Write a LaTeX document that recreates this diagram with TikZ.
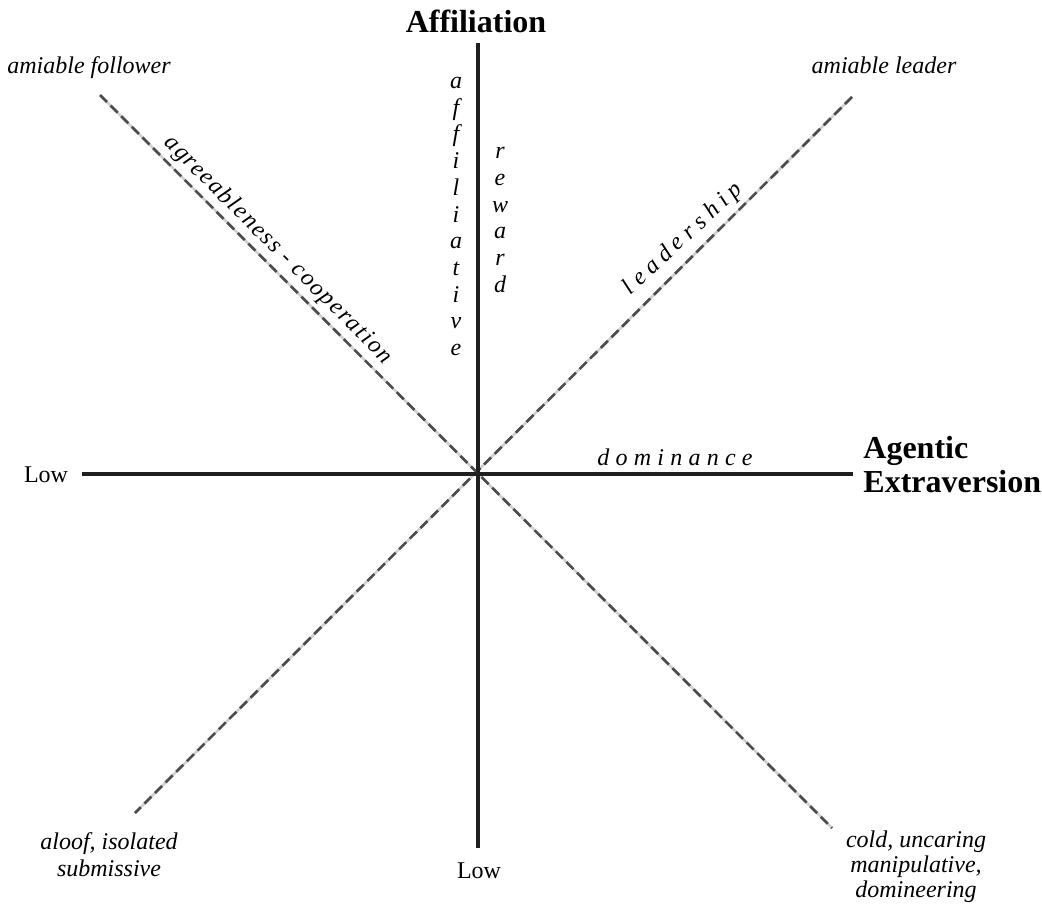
\documentclass[tikz,border=0pt]{standalone}
\usepackage{fontspec}
\setmainfont{Liberation Serif}
\begin{document}
\begin{tikzpicture}[x=0.5pt,y=0.5pt,
    axis/.style={line width=1.8pt,black!88},
    diagbase/.style={line width=1.3pt,black!18},
    diagdash/.style={line width=1.3pt,black!70,dash pattern=on 5pt off 2.5pt},
    lab/.style={font=\fontsize{12}{12.5}\selectfont\itshape,align=center,inner sep=0pt},
    stack/.style={font=\fontsize{12}{13.35}\selectfont\itshape,align=center,inner sep=0pt},
    big/.style={font=\fontsize{16}{17.5}\selectfont\bfseries,align=left,inner sep=0pt},
    low/.style={font=\fontsize{12}{14}\selectfont,inner sep=0pt}]
  \useasboundingbox (0,0) rectangle (1042,-906);
  % ends of the lines
  \coordinate (o) at (478,-474);
  \coordinate (top) at (478,-43);
  \coordinate (bot) at (478,-848);
  \coordinate (left) at (82,-474);
  \coordinate (right) at (853,-474);
  \coordinate (ul) at (100,-95);
  \coordinate (lr) at (832,-828);
  \coordinate (ur) at (852,-97);
  \coordinate (ll) at (135,-813);
  % dashed diagonals
  \draw[diagbase] (ul) -- (lr);
  \draw[diagdash] (ul) -- (lr);
  \draw[diagbase] (ur) -- (ll);
  \draw[diagdash] (ur) -- (ll);
  % axes
  \draw[axis] (top) -- (bot);
  \draw[axis] (left) -- (right);
  % axis titles
  \node[big,anchor=base] (affil) at (476,-32) {Affiliation};
  \node[big,anchor=north west] (agent) at (863,-436) {Agentic\\[-0.5pt]Extraversion};
  \node[low,anchor=base] (lowx) at (46,-482) {Low};
  \node[low,anchor=base] (lowy) at (479,-878) {Low};
  % corners
  \node[lab,anchor=base] (follow) at (89,-73) {amiable follower};
  \node[lab,anchor=base] (leader) at (884,-73) {amiable leader};
  \node[lab,font=\fontsize{12}{13.5}\selectfont\itshape] (aloof) at (109,-855) {aloof, isolated\\submissive};
  \node[lab] (cold) at (916,-867) {cold, uncaring\\manipulative,\\domineering};
  % labels along the lines
  \node[lab,rotate=-45] (agree) at (278,-250) {\addfontfeature{LetterSpace=7}agreeableness - cooperation};
  \node[lab,rotate=43] (lead) at (683,-239) {\addfontfeature{LetterSpace=24}leadership};
  \node[lab,anchor=base] (domin) at (675,-465) {\addfontfeature{LetterSpace=26}dominance};
  \node[stack] (affltv) at (456,-216.5) {a\\f\\f\\i\\l\\i\\a\\t\\i\\v\\e};
  \node[stack] (reward) at (500,-220) {r\\e\\w\\a\\r\\d};
\end{tikzpicture}
\end{document}
